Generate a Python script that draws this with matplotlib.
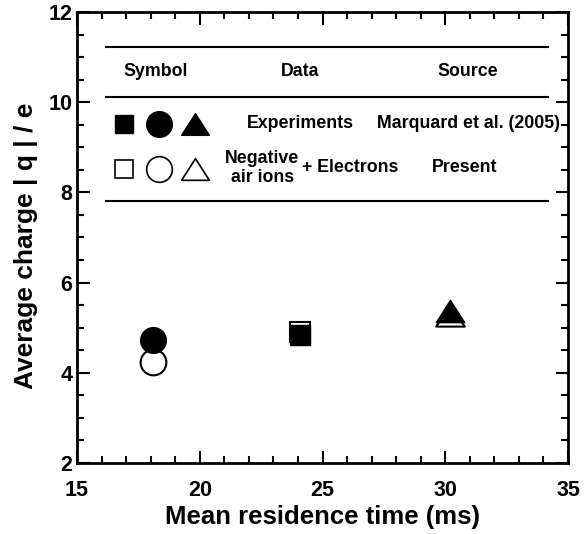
import matplotlib
matplotlib.use("Agg")
import matplotlib.pyplot as plt
from matplotlib.ticker import MultipleLocator
from matplotlib.path import Path

plt.rcParams['font.family'] = ['Liberation Sans', 'DejaVu Sans']
plt.rcParams['font.weight'] = 'bold'

# Mean residence time (ms) and average charge |q|/e
exp_x = [24.1, 18.1, 30.2]          # square, circle, triangle
exp_q = [4.83, 4.72, 5.36]
sim_x = [24.1, 18.1, 30.2]
sim_q = [4.90, 4.25, 5.28]
shapes = ['s', 'o', 'tri']

# a slightly flattened, closed triangle marker
tri = Path([(0, 0.78), (-1, -0.78), (1, -0.78), (0, 0.78)],
           [Path.MOVETO, Path.LINETO, Path.LINETO, Path.CLOSEPOLY])

def mk(s):
    return tri if s == 'tri' else s

sizes = {'s': 14.5, 'o': 18.5, 'tri': 20.5}

fig = plt.figure(figsize=(5.86, 5.34), dpi=100)
ax = fig.add_axes([0.1314, 0.1330, 0.8379, 0.8445])

# open markers (present model) first, experiments on top
for x, q, s in zip(sim_x, sim_q, shapes):
    ax.plot([x], [q], marker=mk(s), ms=sizes[s], mfc='white', mec='black', mew=1.5, ls='none', zorder=3)
for x, q, s in zip(exp_x, exp_q, shapes):
    ax.plot([x], [q], marker=mk(s), ms=sizes[s], mfc='black', mec='black', mew=1.0, ls='none', zorder=4)

ax.set_xlim(15, 35)
ax.set_ylim(2, 12)
ax.xaxis.set_major_locator(MultipleLocator(5))
ax.xaxis.set_minor_locator(MultipleLocator(1))
ax.yaxis.set_major_locator(MultipleLocator(2))
ax.yaxis.set_minor_locator(MultipleLocator(0.5))
ax.tick_params(which='both', direction='in', top=True, right=True, width=1.5, labelsize=15.5)
ax.tick_params(which='major', length=9)
ax.tick_params(which='minor', length=5)
ax.tick_params(axis='x', which='major', pad=12)
for sp in ax.spines.values():
    sp.set_linewidth(2)

ax.set_xlabel('Mean residence time (ms)', fontsize=18.5, fontweight='bold', labelpad=3)
ax.set_ylabel('Average charge | q | / e', fontsize=19, fontweight='bold')
ax.yaxis.set_label_coords(-0.079, 0.482)

# table-style key inside the axes
for yl in [11.23, 10.12, 7.82]:
    ax.plot([16.2, 34.2], [yl, yl], color='black', lw=1.5, zorder=2)

fs = 12.8
ax.text(18.2, 10.67, 'Symbol', ha='center', va='center', fontsize=fs, fontweight='bold')
ax.text(24.1, 10.67, 'Data', ha='center', va='center', fontsize=fs, fontweight='bold')
ax.text(30.9, 10.67, 'Source', ha='center', va='center', fontsize=fs, fontweight='bold')

key_x = [16.9, 18.35, 19.8]
key_sizes = [13.5, 18.5, 20]
for kx, s, sz in zip(key_x, shapes, key_sizes):
    ax.plot([kx], [9.52], marker=mk(s), ms=sz, mfc='black', mec='black', mew=1.0, ls='none')
    ax.plot([kx], [8.52], marker=mk(s), ms=sz, mfc='white', mec='black', mew=1.2, ls='none')

ax.text(24.1, 9.52, 'Experiments', ha='center', va='center', fontsize=fs, fontweight='bold')
ax.text(30.95, 9.52, 'Marquard et al. (2005)', ha='center', va='center', fontsize=fs, fontweight='bold')
ax.text(22.55, 8.76, 'Negative', ha='center', va='center', fontsize=fs, fontweight='bold')
ax.text(22.55, 8.32, 'air ions', ha='center', va='center', fontsize=fs, fontweight='bold')
ax.text(24.15, 8.55, '+ Electrons', ha='left', va='center', fontsize=fs, fontweight='bold')
ax.text(30.8, 8.55, 'Present', ha='center', va='center', fontsize=fs, fontweight='bold')

fig.savefig('out.png', dpi=100)
